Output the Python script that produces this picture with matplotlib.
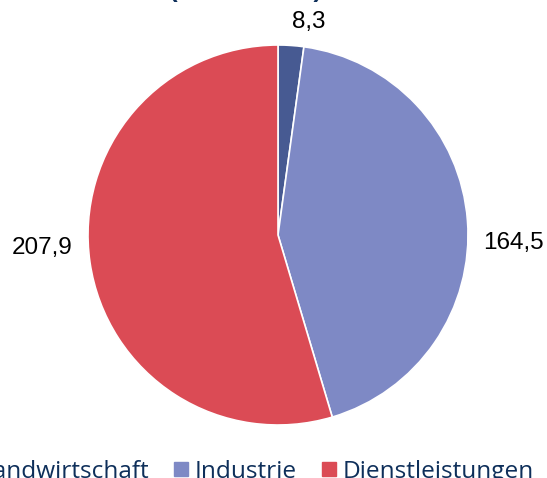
import matplotlib
matplotlib.use("Agg")
import matplotlib.pyplot as plt
from matplotlib.lines import Line2D
import numpy as np

# data
sectors = ["Landwirtschaft", "Industrie", "Dienstleistungen"]
values = [8.3, 164.5, 207.9]
colors = ["#475a92", "#7e89c5", "#db4b55"]
title = "(Mrd. Euro)"

navy = "#0e2f5a"
W, H = 547, 478
fig = plt.figure(figsize=(W / 100, H / 100), dpi=100)

# pie axes: centre (278, 235) px, radius 190 px
cx, cy, r = 278, 235, 190
ax = fig.add_axes([(cx - r) / W, (H - cy - r) / H, 2 * r / W, 2 * r / H])
wedges, _ = ax.pie(values, colors=colors, startangle=90, counterclock=False,
                   radius=1, wedgeprops=dict(edgecolor="white", linewidth=1.2))
ax.set_xlim(-1, 1)
ax.set_ylim(-1, 1)
ax.set_aspect("auto")
ax.axis("off")

# data labels (excel "outside end"-ish placement)
offsets = {0: (0.16, 1.12, "center"), 1: (1.08, -0.04, "left"), 2: (-1.08, -0.07, "right")}
for i, v in enumerate(values):
    x, y, ha = offsets[i]
    ax.text(x, y, f"{v:.1f}".replace(".", ","), ha=ha, va="center",
            fontsize=17.5, family="Liberation Sans", color="black")

# title, mostly cut off at the top edge
fig.text(246 / W, 1 + 2 / H, title, ha="center", va="baseline",
         fontsize=20, fontweight="bold", family="Open Sans", color=navy)

handles = [Line2D([], [], marker="s", linestyle="none", markersize=9.4,
                  markerfacecolor=c, markeredgecolor=c) for c in colors]
leg = fig.legend(handles, sectors, loc="lower right", ncol=3, frameon=False,
                 bbox_to_anchor=(534 / W, -6 / H),
                 prop=dict(family="Open Sans", size=17.6),
                 handlelength=0.53, handletextpad=0.29, columnspacing=1.05,
                 borderpad=0, borderaxespad=0)
for t in leg.get_texts():
    t.set_color(navy)

fig.savefig("out.png", dpi=100)
